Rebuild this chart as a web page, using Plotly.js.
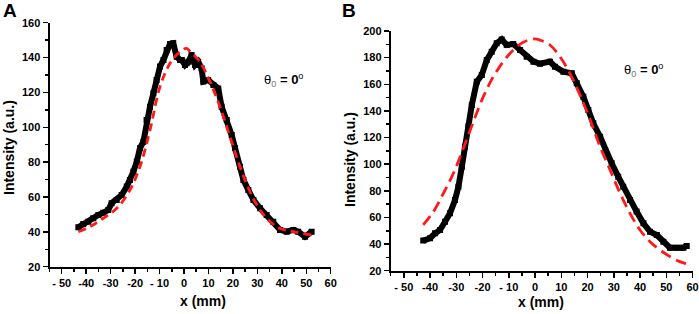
<!DOCTYPE html>
<html><head><meta charset="utf-8">
<script src="https://cdn.plot.ly/plotly-3.0.1.min.js"></script>
<style>html,body{margin:0;padding:0;background:#fff}#c{width:699px;height:314px}</style>
</head><body><div id="c"></div>
<script>
// Panel A measured data
const aX = [-43.2,-41.2,-39.1,-37.1,-35.0,-33.0,-31.0,-29.6,-27.5,-25.5,-23.4,-22.1,-20.7,-19.3,-18.0,-16.6,-15.3,-13.9,-12.5,-11.2,-9.8,-8.4,-7.1,-5.7,-4.4,-3.0,-1.6,-0.9,0.4,1.1,1.8,3.1,4.5,5.2,5.8,7.2,7.9,9.9,12.0,14.0,15.4,17.5,19.5,20.9,22.9,24.3,26.3,28.4,31.1,33.8,36.5,39.3,42.0,44.7,46.7,49.5,52.2];
const aY = [42.6,44.5,45.8,47.8,49.7,51.0,52.5,56.4,58.3,61.1,66.0,69.8,74.5,80.3,88.0,91.7,104.2,111.8,119.5,127.1,134.8,138.6,144.3,147.8,148.2,140.5,138.6,138.6,135.7,136.7,137.6,141.5,135.7,136.7,137.6,133.8,126.2,127.1,124.3,122.3,111.8,104.2,95.6,88.0,77.4,69.8,64.0,58.3,53.5,49.7,45.8,41.1,40.1,41.1,40.1,37.2,40.1];
// Panel A fit
const aFitX = [-43.2,-38.4,-33.0,-27.5,-22.1,-18.0,-13.9,-9.8,-5.7,-1.6,1.1,2.5,6.5,10.6,14.7,18.8,22.9,27.0,31.1,35.2,39.3,44.7,52.2];
const aFitY = [40.1,43.0,47.8,53.5,64.0,77.4,98.4,123.3,136.7,143.4,145.3,143.4,137.6,126.2,111.8,94.6,77.4,63.0,52.5,45.8,42.0,40.1,38.2];
// Panel B measured data
const bX = [-42.6,-40.0,-38.1,-36.2,-34.3,-32.4,-30.5,-29.2,-27.9,-26.7,-25.4,-24.1,-22.2,-20.3,-18.4,-16.5,-14.6,-12.7,-10.8,-8.3,-5.7,-3.2,-0.6,1.9,5.7,7.6,10.8,14.0,15.9,18.4,20.3,22.2,24.8,26.7,29.2,31.7,33.6,36.2,38.7,41.3,43.8,46.4,48.9,51.4,54.0,56.5,57.8];
const bY = [42.6,44.4,48.1,50.6,56.8,63.1,73.1,83.1,98.1,113.1,128.2,144.4,161.9,167.0,178.2,184.5,190.8,193.7,189.5,190.2,185.7,180.7,177.0,175.5,177.0,173.2,169.4,168.2,160.7,150.7,140.7,130.7,120.6,110.7,100.7,90.6,83.1,73.1,64.4,55.6,49.3,46.8,41.8,37.3,37.3,37.3,38.6];
// Panel B fit
const bFitX = [-42.6,-38.7,-34.9,-31.1,-27.3,-23.5,-19.7,-15.9,-12.1,-8.3,-4.5,-0.6,1.9,5.7,9.5,13.3,17.1,21.0,24.8,28.6,32.4,36.2,40.0,43.8,47.6,51.4,55.2,57.8];
const bFitY = [54.4,64.4,78.2,93.2,111.9,131.9,150.7,165.7,177.0,185.7,191.5,194.0,193.2,189.5,180.7,168.2,152.0,133.2,113.1,95.6,78.2,63.1,50.6,41.8,35.6,30.6,26.8,25.1];
// Tick labels
const xTickVals = [-50,-40,-30,-20,-10,0,10,20,30,40,50,60];
const xTickText = ['- 50','-40','-30','-20','- 10','0','10','20','30','40','50','60'];
const panelLabels = ['A','B'];
const annText = 'θ<sub><span style="color:#777">0</span></sub> <b>= 0</b><sup>o</sup>';

const W = 699, H = 314;
const px = x => x / W, py = y => 1 - y / H;

const FAM = 'Liberation Sans, Arial, sans-serif';
const tickFont = {family:FAM, size:11, color:'#000', weight:'bold'};
const titleFont = {family:FAM, size:14, color:'#000', weight:'bold'};

function xax(dom, anchor){
  return {domain:dom, anchor:anchor, range:[-55,60], showgrid:false, zeroline:false, automargin:false,
    showline:true, linewidth:2, linecolor:'#000', ticks:'outside', ticklen:5, tickwidth:1.5, tickcolor:'#000',
    tickvals:xTickVals, ticktext:xTickText, tickfont:tickFont,
    minor:{ticks:'outside', ticklen:3, tickwidth:1.5, tickcolor:'#000', dtick:5, tick0:0, showgrid:false}};
}
function yax(dom, anchor, range, dtick){
  return {domain:dom, anchor:anchor, range:range, showgrid:false, zeroline:false, automargin:false,
    showline:true, linewidth:2, linecolor:'#000', ticks:'outside', ticklen:5, tickwidth:1.5, tickcolor:'#000',
    dtick:dtick, tick0:0, tickfont:tickFont,
    minor:{ticks:'outside', ticklen:3, tickwidth:1.5, tickcolor:'#000', dtick:dtick/2, tick0:0, showgrid:false}};
}

const dataTraces = [
  {x:aX, y:aY, xaxis:'x', yaxis:'y', mode:'lines+markers', line:{color:'#000', width:6},
   marker:{symbol:'square', size:6, color:'#000'}, hoverinfo:'skip'},
  {x:aFitX, y:aFitY, xaxis:'x', yaxis:'y', mode:'lines', line:{color:'#ff1a1a', width:2.8, dash:'8px,5px', shape:'spline'}, hoverinfo:'skip'},
  {x:bX, y:bY, xaxis:'x2', yaxis:'y2', mode:'lines+markers', line:{color:'#000', width:6},
   marker:{symbol:'square', size:6, color:'#000'}, hoverinfo:'skip'},
  {x:bFitX, y:bFitY, xaxis:'x2', yaxis:'y2', mode:'lines', line:{color:'#ff1a1a', width:2.8, dash:'11px,6px', shape:'spline'}, hoverinfo:'skip'}
];

function ann(text, x, y, font, extra){
  return Object.assign({text:text, x:px(x), y:py(y), xref:'paper', yref:'paper',
    xanchor:'center', yanchor:'middle', showarrow:false, font:font}, extra || {});
}

const layout = {
  width:W, height:H, margin:{l:0,r:0,t:0,b:0}, showlegend:false,
  paper_bgcolor:'#fff', plot_bgcolor:'#fff',
  xaxis: xax([px(49.5), px(330.7)], 'y'),
  yaxis: yax([py(266.7), py(22.7)], 'x', [20,160], 20),
  xaxis2: xax([px(390.7), px(692.5)], 'y2'),
  yaxis2: yax([py(270.7), py(31)], 'x2', [20,200], 20),
  annotations:[
    ann(panelLabels[0], 10, 11, {family:FAM, size:19, color:'#000', weight:'bold'}),
    ann(panelLabels[1], 349, 11, {family:FAM, size:19, color:'#000', weight:'bold'}),
    ann('Intensity (a.u.)', 9, 148, titleFont, {textangle:-90}),
    ann('Intensity (a.u.)', 350, 160, titleFont, {textangle:-90}),
    ann('x (mm)', 203, 301, titleFont),
    ann('x (mm)', 541, 302, titleFont),
    ann(annText, 283, 80, {family:FAM, size:13, color:'#000'}),
    ann(annText, 643, 70, {family:FAM, size:13, color:'#000'})
  ]
};

Plotly.newPlot('c', dataTraces, layout, {staticPlot:true, displayModeBar:false});
</script>
</body></html>
